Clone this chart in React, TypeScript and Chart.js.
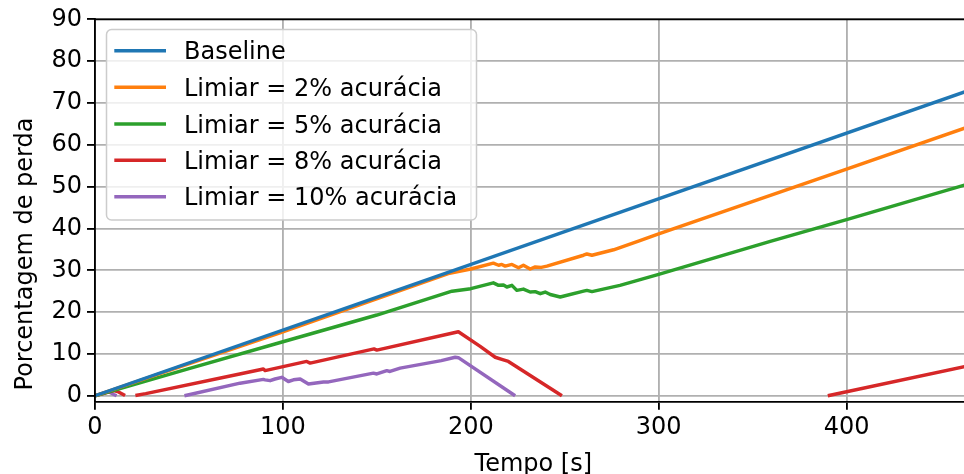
import React, { useEffect, useRef } from "react";
import { Chart, registerables } from "chart.js";

Chart.register(...registerables);

// ---------- data ----------
const seriesNames = [
  "Baseline",
  "Limiar = 2% acurácia",
  "Limiar = 5% acurácia",
  "Limiar = 8% acurácia",
  "Limiar = 10% acurácia",
];
const seriesColors = ["#1f77b4", "#ff7f0e", "#2ca02c", "#d62728", "#9467bd"];

const baselineX = [0, 463];
const baselineY = [0, 72.7];

const limiar2X = [0, 100, 188, 200, 212, 214.8, 216.5, 218.3, 221.9, 225.4, 228, 231.6, 234.3, 237.5, 240.5, 260, 261.8, 264.5, 276, 290, 300, 400, 463];
const limiar2Y = [0, 15.3, 29.2, 30.3, 31.7, 31.2, 31.4, 31.0, 31.4, 30.6, 31.2, 30.3, 30.8, 30.7, 31.0, 33.6, 33.9, 33.6, 34.9, 37.1, 38.7, 54.2, 64.0];

const limiar5X = [0, 50, 100, 150, 190, 200, 212, 214.8, 217.4, 219.2, 221.9, 224.5, 228, 231.6, 234.3, 237, 239.6, 242.3, 247.6, 260, 261.8, 264.5, 279.4, 300, 359.4, 400, 463];
const limiar5Y = [0, 6.5, 12.9, 19.3, 25.0, 25.6, 27.0, 26.4, 26.5, 26.0, 26.4, 25.2, 25.5, 24.8, 24.9, 24.4, 24.8, 24.2, 23.6, 25.0, 25.2, 24.9, 26.4, 29.0, 36.9, 42.1, 50.4];

// null = value below zero, not drawn in the reference
const limiar8X = [0, 10, 12.5, 16, 18, 21.5, 27, 77, 89.6, 90.5, 112.7, 114.5, 148.5, 150, 193.4, 205, 213, 216.5, 220, 248.5, 300, 390, 463];
const limiar8Y: (number | null)[] = [0, 1.2, 0.9, 0.05, null, 0.05, 0.5, 5.2, 6.4, 6.0, 8.2, 7.8, 11.2, 10.9, 15.3, 11.8, 9.2, 8.7, 8.2, 0.0, null, 0.0, 7.0];

const limiar10X = [0, 7, 10, 11.5, 30, 47.6, 77.2, 89.6, 90.5, 93.2, 95.8, 99.4, 102.9, 105.6, 109.2, 113.6, 121.6, 124.3, 148.2, 150, 155.3, 157, 162.4, 184.3, 191.7, 193.4, 223.6, 300];
const limiar10Y: (number | null)[] = [0, 1.0, 0.3, 0.0, null, 0.0, 3.0, 3.9, 3.8, 3.6, 4.0, 4.4, 3.4, 3.8, 4.0, 2.8, 3.3, 3.3, 5.4, 5.2, 6.0, 5.8, 6.6, 8.4, 9.2, 9.1, 0.0, null];

const seriesX = [baselineX, limiar2X, limiar5X, limiar8X, limiar10X];
const seriesY: (number | null)[][] = [baselineY, limiar2Y, limiar5Y, limiar8Y, limiar10Y];

const xTicks = [0, 100, 200, 300, 400];
const yTicks = [0, 10, 20, 30, 40, 50, 60, 70, 80, 90];
const xRange = [0, 462.5];
const yRange = [-1.43, 90];
const xTitle = "Tempo [s]";
const yTitle = "Porcentagem de perda";

// ---------- styling ----------
const FONT = "'DejaVu Sans', sans-serif";
const FS = 24;
const LW = 1.84;

const decorPlugin = {
  id: "decor",
  afterDraw(chart: any) {
    const ctx = chart.ctx;
    const area = chart.chartArea;
    ctx.save();
    // top spine
    ctx.strokeStyle = "#000";
    ctx.lineWidth = LW;
    ctx.beginPath();
    ctx.moveTo(area.left - LW / 2, area.top);
    ctx.lineTo(area.right + 2, area.top);
    ctx.stroke();

    // axis titles
    ctx.fillStyle = "#000";
    ctx.font = `${FS}px ${FONT}`;
    ctx.textAlign = "center";
    ctx.textBaseline = "alphabetic";
    ctx.fillText(xTitle, 533.3, 471);
    ctx.save();
    ctx.translate(32, 254);
    ctx.rotate(-Math.PI / 2);
    ctx.fillText(yTitle, 0, 0);
    ctx.restore();

    // legend
    const bx = 106.5, by = 29.5, bw = 370, bh = 190.5, r = 5;
    ctx.beginPath();
    ctx.moveTo(bx + r, by);
    ctx.lineTo(bx + bw - r, by);
    ctx.arcTo(bx + bw, by, bx + bw, by + r, r);
    ctx.lineTo(bx + bw, by + bh - r);
    ctx.arcTo(bx + bw, by + bh, bx + bw - r, by + bh, r);
    ctx.lineTo(bx + r, by + bh);
    ctx.arcTo(bx, by + bh, bx, by + bh - r, r);
    ctx.lineTo(bx, by + r);
    ctx.arcTo(bx, by, bx + r, by, r);
    ctx.closePath();
    ctx.fillStyle = "rgba(255,255,255,0.8)";
    ctx.fill();
    ctx.strokeStyle = "#cccccc";
    ctx.lineWidth = 1.5;
    ctx.stroke();

    const rows = [50.7, 87.3, 124, 160.3, 196.7];
    ctx.textAlign = "left";
    ctx.font = `${FS}px ${FONT}`;
    seriesNames.forEach((name, i) => {
      ctx.strokeStyle = seriesColors[i];
      ctx.lineWidth = 3.45;
      ctx.lineCap = "butt";
      ctx.beginPath();
      ctx.moveTo(114.3, rows[i]);
      ctx.lineTo(166, rows[i]);
      ctx.stroke();
      ctx.fillStyle = "#000";
      ctx.fillText(name, 184, rows[i] + 8.6);
    });
    ctx.restore();
  },
};

export default function App() {
  const canvasRef = useRef<HTMLCanvasElement | null>(null);

  useEffect(() => {
    document.body.style.margin = "0";
    const canvas = canvasRef.current;
    if (!canvas) return;

    const datasets = seriesNames.map((name, i) => ({
      label: name,
      data: seriesX[i].map((x, j) => ({ x, y: seriesY[i][j] })),
      borderColor: seriesColors[i],
      backgroundColor: seriesColors[i],
      borderWidth: 3.45,
      pointRadius: 0,
      tension: 0,
      fill: false,
      spanGaps: false,
      clip: 0,
      borderJoinStyle: "round" as const,
      borderCapStyle: "butt" as const,
    }));

    const chart = new Chart(canvas, {
      type: "line",
      data: { datasets },
      options: {
        animation: false,
        responsive: false,
        maintainAspectRatio: false,
        devicePixelRatio: 1,
        layout: { padding: { top: 18.3, right: 0, bottom: 0, left: 0 } },
        plugins: {
          legend: { display: false },
          tooltip: { enabled: false },
        },
        scales: {
          x: {
            type: "linear",
            min: xRange[0],
            max: xRange[1],
            afterBuildTicks: (s: any) => {
              s.ticks = xTicks.map((v) => ({ value: v }));
            },
            afterFit: (s: any) => {
              s.height = 72.3;
            },
            grid: {
              color: "#b0b0b0",
              lineWidth: LW,
              drawTicks: true,
              tickLength: 8,
              tickColor: "#000",
              tickWidth: LW,
            },
            border: { color: "#000", width: LW, z: 1 },
            ticks: {
              color: "#000",
              font: { family: FONT, size: FS },
              padding: 4,
              maxRotation: 0,
              autoSkip: false,
              includeBounds: false,
            },
            title: { display: false },
          },
          y: {
            type: "linear",
            min: yRange[0],
            max: yRange[1],
            afterBuildTicks: (s: any) => {
              s.ticks = yTicks.map((v) => ({ value: v }));
            },
            afterFit: (s: any) => {
              s.width = 95;
            },
            grid: {
              color: "#b0b0b0",
              lineWidth: LW,
              drawTicks: true,
              tickLength: 8,
              tickColor: "#000",
              tickWidth: LW,
            },
            border: { color: "#000", width: LW, z: 1 },
            ticks: {
              color: "#000",
              font: { family: FONT, size: FS },
              padding: 5,
              autoSkip: false,
              includeBounds: false,
            },
            title: { display: false },
          },
        },
      },
      plugins: [decorPlugin],
    });

    return () => chart.destroy();
  }, []);

  return (
    <div style={{ width: 964, height: 474, overflow: "hidden", background: "#fff" }}>
      <canvas ref={canvasRef} width={964} height={474} style={{ display: "block" }} />
    </div>
  );
}
